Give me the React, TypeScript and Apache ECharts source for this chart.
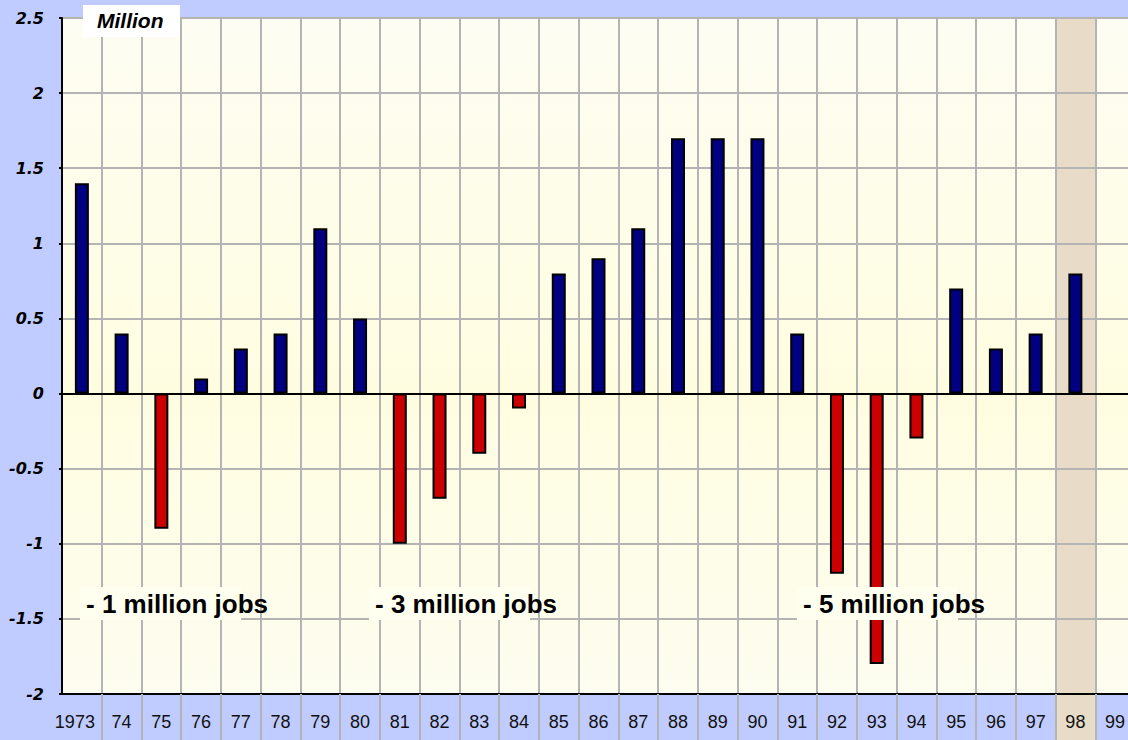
import React, { useEffect, useRef } from "react";
import * as echarts from "echarts";

const years = ["1973", "74", "75", "76", "77", "78", "79", "80", "81", "82", "83", "84", "85", "86", "87", "88", "89", "90", "91", "92", "93", "94", "95", "96", "97", "98", "99"];
const jobChanges: (number | null)[] = [1.4, 0.4, -0.9, 0.1, 0.3, 0.4, 1.1, 0.5, -1.0, -0.7, -0.4, -0.1, 0.8, 0.9, 1.1, 1.7, 1.7, 1.7, 0.4, -1.2, -1.8, -0.3, 0.7, 0.3, 0.4, 0.8, null];
const yMin = -2;
const yMax = 2.5;
const yInterval = 0.5;
const unitLabel = "Million";
const highlightYear = "98";
const recessionNotes = ["- 1 million jobs", "- 3 million jobs", "- 5 million jobs"];

const GRID = "#b4b4b4";
const POS = "#000080";
const NEG = "#cc0000";
const TAN = "#e8dcc8";

const notePos = [
  { bx: 80, tx: 86 },
  { bx: 369, tx: 375 },
  { bx: 797, tx: 803 },
];

export default function App() {
  const ref = useRef<HTMLDivElement>(null);
  useEffect(() => {
    document.body.style.margin = "0";
    if (!ref.current) return;
    const chart = echarts.init(ref.current, null, { renderer: "svg" });
    const option: any = {
      animation: false,
      backgroundColor: "#c0ccff",
      grid: {
        left: 62,
        top: 18,
        right: 1,
        bottom: 46,
        show: true,
        borderColor: "#000",
        borderWidth: 2,
        backgroundColor: new echarts.graphic.LinearGradient(0, 0, 0, 1, [
          { offset: 0, color: "#fdfdf3" },
          { offset: 0.55, color: "#fffde0" },
          { offset: 1, color: "#fdfdf0" },
        ]),
      },
      xAxis: {
        type: "category",
        data: years,
        z: 2,
        boundaryGap: true,
        axisLine: { show: true, onZero: false, lineStyle: { color: "#000", width: 2 } },
        axisTick: {
          show: true,
          length: 46,
          interval: (i: number) => i !== 0,
          lineStyle: { color: GRID, width: 2 },
        },
        axisLabel: {
          interval: 0,
          margin: 19,
          fontSize: 18,
          color: "#111",
          fontFamily: "Liberation Sans, Arial, sans-serif",
          formatter: (v: string, i: number) => (i === 0 ? `{first|${v}}` : v),
          rich: {
            first: {
              fontSize: 18,
              color: "#111",
              fontFamily: "Liberation Sans, Arial, sans-serif",
              padding: [0, 14, 0, 0],
            },
          },
        },
        splitLine: { show: true, interval: 0, lineStyle: { color: GRID, width: 2 } },
      },
      yAxis: {
        type: "value",
        min: yMin,
        max: yMax,
        interval: yInterval,
        z: 2,
        axisLine: { show: true, lineStyle: { color: "#000", width: 2 } },
        axisTick: { show: true, length: 3, lineStyle: { color: "#000", width: 2 } },
        axisLabel: {
          margin: 18,
          fontSize: 16,
          fontWeight: "bold",
          fontStyle: "italic",
          color: "#000",
          fontFamily: "DejaVu Sans, sans-serif",
        },
        splitLine: { show: true, lineStyle: { color: GRID, width: 2 } },
      },
      series: [
        {
          type: "bar",
          z: 3,
          data: jobChanges,
          barWidth: 14,
          itemStyle: {
            color: (p: any) => (p.value >= 0 ? POS : NEG),
            borderColor: "#000",
            borderWidth: 2,
          },
          markLine: {
            silent: true,
            symbol: "none",
            label: { show: false },
            lineStyle: { color: "#000", width: 2, type: "solid" },
            data: [{ yAxis: 0 }],
          },
        },
      ],
    };
    chart.setOption(option);

    const idx = years.indexOf(highlightYear);
    const cx = chart.convertToPixel({ xAxisIndex: 0 }, years[idx]) as number;
    const nx = chart.convertToPixel({ xAxisIndex: 0 }, years[idx + 1]) as number;
    const bw = nx - cx;
    const topY = chart.convertToPixel({ yAxisIndex: 0 }, yMax) as number;

    const graphic: any[] = [
      {
        type: "rect",
        z: 1,
        silent: true,
        shape: { x: cx - bw / 2, y: topY + 1, width: bw, height: 740 - topY },
        style: { fill: TAN },
      },
      {
        type: "rect",
        z: 100,
        silent: true,
        shape: { x: 83, y: 5, width: 97, height: 32 },
        style: { fill: "#ffffff" },
      },
      {
        type: "text",
        z: 101,
        silent: true,
        x: 97,
        y: 20,
        style: {
          text: unitLabel,
          font: "italic bold 21px 'Liberation Sans', Arial, sans-serif",
          fill: "#000",
          verticalAlign: "middle",
        },
      },
    ];
    recessionNotes.forEach((t, i) => {
      graphic.push({
        type: "rect",
        z: 100,
        silent: true,
        shape: { x: notePos[i].bx, y: 587, width: 161, height: 33 },
        style: { fill: "#fffff0" },
      });
      graphic.push({
        type: "text",
        z: 101,
        silent: true,
        x: notePos[i].tx,
        y: 604,
        style: {
          text: t,
          font: "bold 26px 'Liberation Sans', Arial, sans-serif",
          fill: "#000",
          verticalAlign: "middle",
        },
      });
    });
    chart.setOption({ graphic });

    return () => chart.dispose();
  }, []);

  return (
    <div style={{ width: 1128, height: 740, overflow: "hidden", background: "#c0ccff" }}>
      <div ref={ref} style={{ width: 1136, height: 740 }} />
    </div>
  );
}
